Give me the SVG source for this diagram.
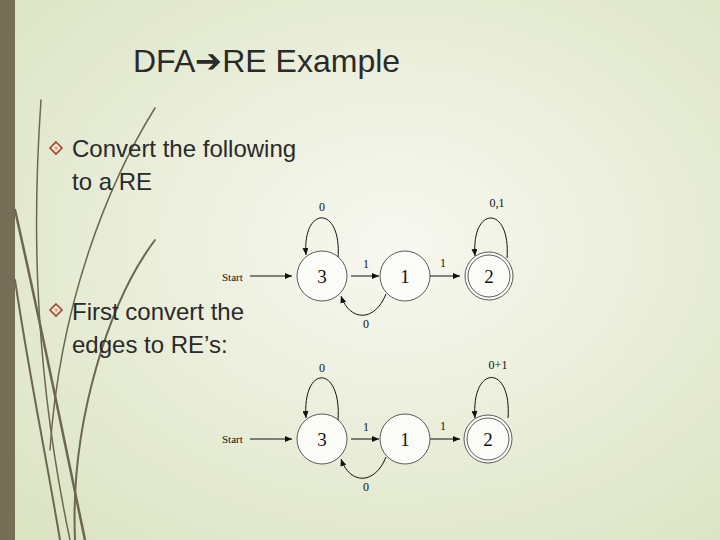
<svg xmlns="http://www.w3.org/2000/svg" width="720" height="540" viewBox="0 0 720 540">
<defs>
<radialGradient id="bg" cx="0.55" cy="0.45" r="0.75"><stop offset="0" stop-color="#f7f8f0"/><stop offset="1" stop-color="#dbe3c2"/></radialGradient>
<marker id="ah" markerWidth="7" markerHeight="6" refX="7" refY="3" orient="auto" markerUnits="userSpaceOnUse"><path d="M0,0 L7,3 L0,6 z" fill="#111"/></marker>
<g id="dia"><path d="M0,-6 L6,0 L0,6 L-6,0 z" fill="#f3e7d6" stroke="#a0442a" stroke-width="1.6"/><text x="0" y="2.5" font-size="6" text-anchor="middle" fill="#a0442a" font-family="Liberation Sans, sans-serif">?</text></g>
</defs>
<style>
.t{font-family:"Liberation Sans",Arial,sans-serif;fill:#2a2a2a}
.s{font-family:"Liberation Serif","Times New Roman",serif;fill:#111}
.st{fill:#fbfcf7;stroke:#333;stroke-width:0.8}
.e{fill:none;stroke:#111;stroke-width:1;marker-end:url(#ah)}
.g{fill:none;stroke:#6d6650;stroke-linecap:round}
</style>
<rect width="720" height="540" fill="url(#bg)"/>
<rect width="15" height="540" fill="#766f58"/>
<g id="grass">
<path class="g" stroke-width="1.5" d="M41,100 C34,200 30,350 70,540"/>
<path class="g" stroke-width="2.5" d="M15,210 C40,320 60,420 85,540"/>
<path class="g" stroke-width="2" d="M155,240 C110,300 70,420 75,540"/>
<path class="g" stroke="#c8cdb4" stroke-width="1.5" d="M155,108 C110,180 60,300 50,450"/>
<path class="g" stroke="#b9bea3" stroke-width="2" d="M15,280 C30,380 45,450 60,540"/>
</g>
<text class="t" x="133" y="72" font-size="32">DFA➔RE Example</text>
<use href="#dia" x="56" y="148"/>
<text class="t" x="72" y="157" font-size="24">Convert the following</text>
<text class="t" x="72" y="190" font-size="24">to a RE</text>
<use href="#dia" x="56" y="310"/>
<text class="t" x="72" y="320" font-size="24">First convert the</text>
<text class="t" x="72" y="353" font-size="24">edges to RE’s:</text>

<g id="connectors">
<path class="e" d="M338,258 C342,205 302,205 306,255"/>
<path class="e" d="M250,276 L292,276"/>
<path class="e" d="M351,276 L379,276"/>
<path class="e" d="M430,276 L460,276"/>
<path class="e" d="M507,258 C511,205 471,205 475,256"/>
<path class="e" d="M386,294 C375,322 350,322 341,296"/>
<path class="e" d="M250,439 L292,439"/>
<path class="e" d="M338,421 C342,364 302,364 306,418"/>
<path class="e" d="M351,439 L379,439"/>
<path class="e" d="M430,439 L460,439"/>
<path class="e" d="M508,418 C512,364 471,364 475,418"/>
<path class="e" d="M386,457 C375,485 350,485 341,459"/>
<text class="s" x="322" y="211" font-size="12" text-anchor="middle">0</text>
<text class="s" x="366" y="268" font-size="12" text-anchor="middle">1</text>
<text class="s" x="443" y="267" font-size="12" text-anchor="middle">1</text>
<text class="s" x="497" y="207" font-size="12" text-anchor="middle">0,1</text>
<text class="s" x="366" y="328" font-size="12" text-anchor="middle">0</text>
<text class="s" x="322" y="372" font-size="12" text-anchor="middle">0</text>
<text class="s" x="366" y="431" font-size="12" text-anchor="middle">1</text>
<text class="s" x="443" y="430" font-size="12" text-anchor="middle">1</text>
<text class="s" x="498" y="369" font-size="12" text-anchor="middle">0+1</text>
<text class="s" x="366" y="491" font-size="12" text-anchor="middle">0</text>
</g>
<text class="s" x="222" y="281" font-size="11">Start</text>
<text class="s" x="222" y="443" font-size="11">Start</text>
<g id="n3a"><circle class="st" cx="322" cy="276" r="25"/><text class="s" x="322" y="283" font-size="19" text-anchor="middle">3</text></g>
<g id="n1a"><circle class="st" cx="405" cy="276" r="25"/><text class="s" x="405" y="283" font-size="19" text-anchor="middle">1</text></g>
<g id="n2a"><circle class="st" cx="489" cy="276" r="24" stroke-width="3"/><circle cx="489" cy="276" r="21" fill="none" stroke="#333" stroke-width="0.8"/><text class="s" x="489" y="283" font-size="19" text-anchor="middle">2</text></g>
<g id="n3b"><circle class="st" cx="322" cy="439" r="25"/><text class="s" x="322" y="446" font-size="19" text-anchor="middle">3</text></g>
<g id="n1b"><circle class="st" cx="405" cy="439" r="25"/><text class="s" x="405" y="446" font-size="19" text-anchor="middle">1</text></g>
<g id="n2b"><circle class="st" cx="488" cy="439" r="24" stroke-width="3"/><circle cx="488" cy="439" r="21" fill="none" stroke="#333" stroke-width="0.8"/><text class="s" x="488" y="446" font-size="19" text-anchor="middle">2</text></g>
</svg>
